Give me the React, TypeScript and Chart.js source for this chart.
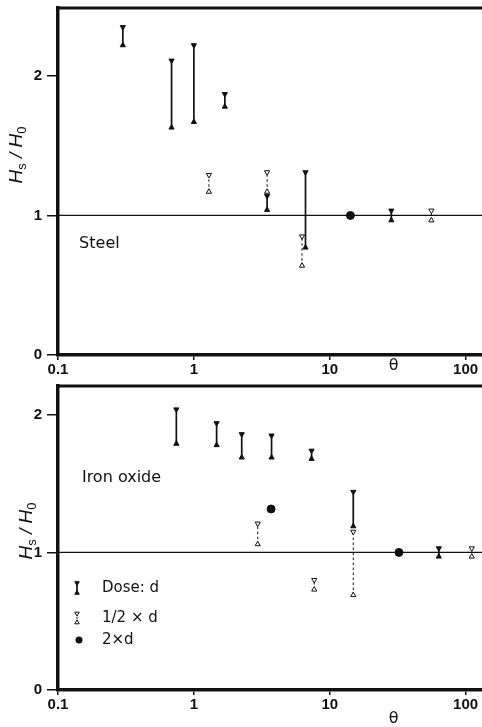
import React, { useEffect, useRef } from "react";
import { Chart, registerables } from "chart.js";
Chart.register(...registerables);

// ---------- data ----------
// Steel panel
const steelDoseX = [0.3, 0.685, 1.0, 1.69, 3.46, 6.63, 28.4];
const steelDoseLo = [2.22, 1.63, 1.67, 1.78, 1.04, 0.77, 0.965];
const steelDoseHi = [2.35, 2.11, 2.22, 1.87, 1.14, 1.31, 1.035];
const steelHalfX = [1.29, 3.46, 6.25, 56];
const steelHalfLo = [1.17, 1.17, 0.64, 0.965];
const steelHalfHi = [1.29, 1.31, 0.85, 1.035];
const steelDoubleX = [14.2];
const steelDoubleY = [1.0];

// Iron oxide panel
const ironDoseX = [0.743, 1.47, 2.25, 3.73, 7.35, 14.9, 63.5];
const ironDoseLo = [1.79, 1.78, 1.69, 1.69, 1.68, 1.19, 0.97];
const ironDoseHi = [2.04, 1.94, 1.86, 1.85, 1.74, 1.44, 1.03];
const ironHalfX = [2.95, 7.69, 14.9, 111];
const ironHalfLo = [1.06, 0.73, 0.69, 0.97];
const ironHalfHi = [1.21, 0.8, 1.15, 1.03];
const ironDoubleX = [3.7, 32.3];
const ironDoubleY = [1.316, 1.0];

const xTicks = [0.1, 1, 10, 100];
const yTicks = [0, 1, 2];
const refY = 1;
const xMin = 0.1;
const xMax = 132;
const thetaX = 29.5;
const legendLabels = ["Dose: d", "1/2 \u00d7 d", "2\u00d7d"];

// ---------- styling ----------
const INK = "#111";
const TICK_FONT = { family: "'Liberation Sans', Arial, sans-serif", size: 15, weight: "bold" as const };
const TEXT_FONT = "16px 'DejaVu Sans', sans-serif";
const LEG_FONT = "15px 'DejaVu Sans', sans-serif";

function barDatasets(xs: number[], lo: number[], hi: number[], open: boolean) {
  return xs.map((x, i) => ({
    label: open ? "half" : "dose",
    data: [
      { x, y: lo[i] },
      { x, y: hi[i] },
    ],
    borderColor: INK,
    borderWidth: open ? 1 : 1.7,
    borderDash: open ? [2.5, 2.5] : [],
    pointStyle: "triangle",
    pointRotation: [0, 180],
    pointRadius: 3,
    pointBackgroundColor: open ? "#fff" : INK,
    pointBorderColor: INK,
    pointBorderWidth: 1,
    showLine: true,
    order: 1,
  }));
}

function buildDatasets(
  doseX: number[], doseLo: number[], doseHi: number[],
  halfX: number[], halfLo: number[], halfHi: number[],
  dblX: number[], dblY: number[]
) {
  const ds: any[] = [];
  ds.push({
    label: "ref",
    data: [
      { x: xMin, y: refY },
      { x: xMax, y: refY },
    ],
    borderColor: INK,
    borderWidth: 1.3,
    pointRadius: 0,
    order: 10,
  });
  ds.push(...barDatasets(doseX, doseLo, doseHi, false));
  ds.push(...barDatasets(halfX, halfLo, halfHi, true));
  ds.push({
    label: "double",
    data: dblX.map((x, i) => ({ x, y: dblY[i] })),
    showLine: false,
    pointStyle: "circle",
    pointRadius: 4,
    pointBackgroundColor: INK,
    pointBorderColor: INK,
    order: 0,
  });
  return ds;
}

function tri(ctx: CanvasRenderingContext2D, x: number, y: number, r: number, up: boolean, filled: boolean) {
  ctx.beginPath();
  const s = up ? -1 : 1;
  ctx.moveTo(x, y + s * r);
  ctx.lineTo(x - r * 0.87, y - s * r * 0.5);
  ctx.lineTo(x + r * 0.87, y - s * r * 0.5);
  ctx.closePath();
  ctx.fillStyle = filled ? INK : "#fff";
  ctx.fill();
  ctx.lineWidth = 1;
  ctx.strokeStyle = INK;
  ctx.stroke();
}

const decorPlugin = {
  id: "decor",
  afterDraw(chart: any, _args: any, opts: any) {
    const { ctx, chartArea: ca, scales } = chart;
    const xs = scales.x;
    const ys = scales.y;
    ctx.save();
    // top frame line
    ctx.strokeStyle = INK;
    ctx.lineWidth = 3;
    ctx.beginPath();
    ctx.moveTo(ca.left - 1.5, ca.top);
    ctx.lineTo(ca.right, ca.top);
    ctx.stroke();

    // y title: H_s / H_0 rotated
    ctx.translate(opts.titleX, ca.top + opts.titleDy);
    ctx.rotate(-Math.PI / 2);
    const big = "italic 19px 'Liberation Sans', Arial, sans-serif";
    const small = "13px 'Liberation Sans', Arial, sans-serif";
    const parts: [string, string, number][] = [
      ["H", big, 0],
      ["s", small, 4],
      [" / ", big, 0],
      ["H", big, 0],
      ["0", small, 4],
    ];
    let total = 0;
    for (const [t, f] of parts) {
      ctx.font = f;
      total += ctx.measureText(t).width;
    }
    let cx = -total / 2;
    ctx.fillStyle = INK;
    ctx.textBaseline = "alphabetic";
    ctx.textAlign = "left";
    for (const [t, f, dy] of parts) {
      ctx.font = f;
      ctx.fillText(t, cx, 6 + dy);
      cx += ctx.measureText(t).width;
    }
    ctx.setTransform(1, 0, 0, 1, 0, 0);

    // theta
    ctx.font = "16px 'DejaVu Sans', sans-serif";
    ctx.textAlign = "center";
    ctx.textBaseline = "middle";
    ctx.fillText("\u03b8", xs.getPixelForValue(thetaX), ca.bottom + opts.thetaDy);

    // panel label
    ctx.font = TEXT_FONT;
    ctx.textAlign = "left";
    ctx.fillText(opts.label, xs.getPixelForValue(opts.labelX), ys.getPixelForValue(opts.labelY));

    if (opts.legend) {
      const sx = ca.left + 19;
      const tx = ca.left + 44;
      const rows = [ca.top + 202, ca.top + 232, ca.top + 254];
      // dose symbol
      ctx.strokeStyle = INK;
      ctx.lineWidth = 1.7;
      ctx.beginPath();
      ctx.moveTo(sx, rows[0] - 6);
      ctx.lineTo(sx, rows[0] + 6);
      ctx.stroke();
      tri(ctx, sx, rows[0] - 5, 2.6, false, true);
      tri(ctx, sx, rows[0] + 5, 2.6, true, true);
      // half symbol
      ctx.lineWidth = 1;
      ctx.setLineDash([2, 2]);
      ctx.beginPath();
      ctx.moveTo(sx, rows[1] - 5);
      ctx.lineTo(sx, rows[1] + 5);
      ctx.stroke();
      ctx.setLineDash([]);
      tri(ctx, sx, rows[1] - 4.5, 2.6, false, false);
      tri(ctx, sx, rows[1] + 4.5, 2.6, true, false);
      // dot
      ctx.beginPath();
      ctx.arc(sx + 2, rows[2], 3.5, 0, Math.PI * 2);
      ctx.fillStyle = INK;
      ctx.fill();
      ctx.font = LEG_FONT;
      ctx.fillStyle = INK;
      ctx.textAlign = "left";
      ctx.textBaseline = "middle";
      legendLabels.forEach((l, i) => ctx.fillText(l, tx, rows[i]));
    }
    ctx.restore();
  },
};

function makeConfig(datasets: any[], yMax: number, padTop: number, xAxisH: number, decor: any) {
  return {
    type: "line" as const,
    data: { datasets },
    plugins: [decorPlugin],
    options: {
      animation: false as const,
      responsive: false,
      maintainAspectRatio: false,
      events: [],
      layout: { padding: { top: padTop, left: 0, right: 0, bottom: 0 }, autoPadding: false },
      plugins: {
        legend: { display: false },
        tooltip: { enabled: false },
        decor,
      },
      scales: {
        x: {
          type: "logarithmic" as const,
          min: xMin,
          max: xMax,
          afterBuildTicks: (s: any) => {
            s.ticks = xTicks.map((v) => ({ value: v }));
          },
          afterFit: (s: any) => {
            s.height = xAxisH;
            s.paddingLeft = 0;
            s.paddingRight = 0;
          },
          ticks: {
            callback: (v: any) => String(v),
            font: TICK_FONT,
            color: INK,
            padding: 1,
            maxRotation: 0,
            autoSkip: false,
          },
          grid: { drawOnChartArea: false, drawTicks: true, tickLength: 5, color: INK, lineWidth: 1.5 },
          border: { display: true, color: INK, width: 3.5 },
        },
        y: {
          type: "linear" as const,
          min: 0,
          max: yMax,
          afterBuildTicks: (s: any) => {
            s.ticks = yTicks.map((v) => ({ value: v }));
          },
          afterFit: (s: any) => {
            s.width = 58;
            s.paddingTop = 0;
            s.paddingBottom = 0;
          },
          ticks: { font: TICK_FONT, color: INK, padding: 5, callback: (v: any) => String(v) },
          grid: { drawOnChartArea: false, drawTicks: true, tickLength: 11, color: INK, lineWidth: 1.5 },
          border: { display: true, color: INK, width: 3.5 },
        },
      },
    },
  };
}

function Panel({ config, top, height }: { config: () => any; top: number; height: number }) {
  const ref = useRef<HTMLCanvasElement>(null);
  useEffect(() => {
    const chart = new Chart(ref.current!, config());
    return () => chart.destroy();
  }, []);
  return (
    <canvas
      ref={ref}
      width={482}
      height={height}
      style={{ position: "absolute", left: 0, top, width: 482, height, display: "block" }}
    />
  );
}

export default function App() {
  const steelCfg = () =>
    makeConfig(
      buildDatasets(steelDoseX, steelDoseLo, steelDoseHi, steelHalfX, steelHalfLo, steelHalfHi, steelDoubleX, steelDoubleY),
      2.487,
      8,
      25,
      { titleX: 16, titleDy: 147, thetaDy: 11, label: "Steel", labelX: 0.143, labelY: 0.8, legend: false }
    );
  const ironCfg = () =>
    makeConfig(
      buildDatasets(ironDoseX, ironDoseLo, ironDoseHi, ironHalfX, ironHalfLo, ironHalfHi, ironDoubleX, ironDoubleY),
      2.21,
      6,
      37,
      { titleX: 26, titleDy: 145, thetaDy: 29, label: "Iron oxide", labelX: 0.15, labelY: 1.544, legend: true }
    );
  return (
    <div style={{ position: "absolute", left: 0, top: 0, width: 482, height: 727, background: "#fff" }}>
      <Panel config={steelCfg} top={0} height={380} />
      <Panel config={ironCfg} top={380} height={347} />
    </div>
  );
}
